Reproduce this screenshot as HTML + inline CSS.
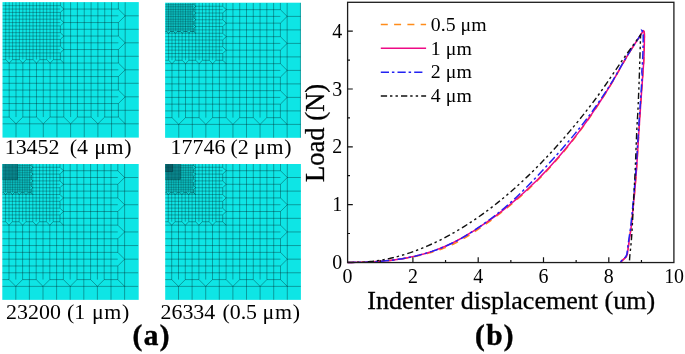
<!DOCTYPE html>
<html><head><meta charset="utf-8"><title>Figure</title>
<style>
html,body{margin:0;padding:0;background:#fff;}
body{width:685px;height:354px;overflow:hidden;}
svg{display:block;}
text{font-family:"Liberation Serif","Times New Roman",serif;fill:#000;stroke:#000;stroke-width:0;}
.s{stroke-width:0.3px;}
.b{font-weight:bold;stroke-width:0.45px;}
</style></head><body>
<svg width="685" height="354" viewBox="0 0 685 354">
<rect width="685" height="354" fill="#fff"/>
<clipPath id="cp1"><rect x="2.5" y="2.1" width="136.30" height="135.50"/></clipPath>
<rect x="2.5" y="2.1" width="136.30" height="135.50" fill="#0ee5e5"/>
<g clip-path="url(#cp1)">
<path d="M16.00 123.80L16.00 137.30M29.65 117.05L29.65 137.30M43.30 123.80L43.30 137.30M56.95 117.05L56.95 137.30M70.60 123.80L70.60 137.30M84.25 117.05L84.25 137.30M97.90 123.80L97.90 137.30M111.55 117.05L111.55 137.30M125.20 2.30L125.20 137.30M125.20 15.80L138.85 15.80M118.38 29.30L138.85 29.30M125.20 42.80L138.85 42.80M118.38 56.30L138.85 56.30M125.20 69.80L138.85 69.80M118.38 83.30L138.85 83.30M125.20 96.80L138.85 96.80M118.38 110.30L138.85 110.30M2.35 123.80L138.85 123.80M9.18 63.05L9.18 117.05M16.00 59.67L16.00 117.05M22.83 63.05L22.83 117.05M29.65 59.67L29.65 117.05M36.48 63.05L36.48 117.05M43.30 59.67L43.30 117.05M50.12 63.05L50.12 117.05M56.95 59.67L56.95 117.05M63.78 2.30L63.78 117.05M70.60 2.30L70.60 117.05M77.42 2.30L77.42 117.05M84.25 2.30L84.25 117.05M91.08 2.30L91.08 117.05M97.90 2.30L97.90 117.05M104.72 2.30L104.72 117.05M111.55 2.30L111.55 117.05M63.78 9.05L118.38 9.05M60.36 15.80L118.38 15.80M63.78 22.55L118.38 22.55M60.36 29.30L118.38 29.30M63.78 36.05L118.38 36.05M60.36 42.80L118.38 42.80M63.78 49.55L118.38 49.55M60.36 56.30L118.38 56.30M2.35 63.05L118.38 63.05M2.35 69.80L118.38 69.80M2.35 76.55L118.38 76.55M2.35 83.30L118.38 83.30M2.35 90.05L118.38 90.05M2.35 96.80L118.38 96.80M2.35 103.55L118.38 103.55M2.35 110.30L118.38 110.30M118.38 2.30L118.38 9.05L125.20 15.80L118.38 22.55L118.38 36.05L125.20 42.80L118.38 49.55L118.38 63.05L125.20 69.80L118.38 76.55L118.38 90.05L125.20 96.80L118.38 103.55L118.38 117.05M2.35 117.05L9.18 117.05L16.00 123.80L22.83 117.05L36.48 117.05L43.30 123.80L50.12 117.05L63.78 117.05L70.60 123.80L77.42 117.05L91.08 117.05L97.90 123.80L104.72 117.05L118.38 117.05M118.38 117.05L125.20 123.80M60.36 2.30L60.36 5.67L63.78 9.05L60.36 12.43L60.36 19.18L63.78 22.55L60.36 25.93L60.36 32.67L63.78 36.05L60.36 39.42L60.36 46.17L63.78 49.55L60.36 52.92L60.36 59.67M2.35 59.67L5.76 59.67L9.18 63.05L12.59 59.67L19.41 59.67L22.83 63.05L26.24 59.67L33.06 59.67L36.48 63.05L39.89 59.67L46.71 59.67L50.12 63.05L53.54 59.67L60.36 59.67M60.36 59.67L63.78 63.05" fill="none" stroke="#001a20" stroke-width="0.36" stroke-opacity="1.0"/>
<path d="M5.76 2.30L5.76 59.67M9.18 2.30L9.18 59.67M12.59 2.30L12.59 59.67M16.00 2.30L16.00 59.67M19.41 2.30L19.41 59.67M22.83 2.30L22.83 59.67M26.24 2.30L26.24 59.67M29.65 2.30L29.65 59.67M33.06 2.30L33.06 59.67M36.48 2.30L36.48 59.67M39.89 2.30L39.89 59.67M43.30 2.30L43.30 59.67M46.71 2.30L46.71 59.67M50.12 2.30L50.12 59.67M53.54 2.30L53.54 59.67M56.95 2.30L56.95 59.67M2.35 5.67L60.36 5.67M2.35 9.05L60.36 9.05M2.35 12.43L60.36 12.43M2.35 15.80L60.36 15.80M2.35 19.18L60.36 19.18M2.35 22.55L60.36 22.55M2.35 25.93L60.36 25.93M2.35 29.30L60.36 29.30M2.35 32.67L60.36 32.67M2.35 36.05L60.36 36.05M2.35 39.42L60.36 39.42M2.35 42.80L60.36 42.80M2.35 46.17L60.36 46.17M2.35 49.55L60.36 49.55M2.35 52.92L60.36 52.92M2.35 56.30L60.36 56.30" fill="none" stroke="#001a20" stroke-width="0.36" stroke-opacity="0.88"/>
</g>
<clipPath id="cp2"><rect x="165.1" y="2.7" width="135.80" height="135.10"/></clipPath>
<rect x="165.1" y="2.7" width="135.80" height="135.10" fill="#0ee5e5"/>
<g clip-path="url(#cp2)">
<path d="M178.75 124.40L178.75 137.90M192.30 117.65L192.30 137.90M205.85 124.40L205.85 137.90M219.40 117.65L219.40 137.90M232.95 124.40L232.95 137.90M246.50 117.65L246.50 137.90M260.05 124.40L260.05 137.90M273.60 117.65L273.60 137.90M287.15 2.90L287.15 137.90M287.15 16.40L300.70 16.40M280.38 29.90L300.70 29.90M287.15 43.40L300.70 43.40M280.38 56.90L300.70 56.90M287.15 70.40L300.70 70.40M280.38 83.90L300.70 83.90M287.15 97.40L300.70 97.40M280.38 110.90L300.70 110.90M165.20 124.40L300.70 124.40M171.97 63.65L171.97 117.65M178.75 60.27L178.75 117.65M185.52 63.65L185.52 117.65M192.30 60.27L192.30 117.65M199.07 63.65L199.07 117.65M205.85 60.27L205.85 117.65M212.62 63.65L212.62 117.65M219.40 60.27L219.40 117.65M226.17 2.90L226.17 117.65M232.95 2.90L232.95 117.65M239.72 2.90L239.72 117.65M246.50 2.90L246.50 117.65M253.27 2.90L253.27 117.65M260.05 2.90L260.05 117.65M266.82 2.90L266.82 117.65M273.60 2.90L273.60 117.65M226.17 9.65L280.38 9.65M222.79 16.40L280.38 16.40M226.17 23.15L280.38 23.15M222.79 29.90L280.38 29.90M226.17 36.65L280.38 36.65M222.79 43.40L280.38 43.40M226.17 50.15L280.38 50.15M222.79 56.90L280.38 56.90M165.20 63.65L280.38 63.65M165.20 70.40L280.38 70.40M165.20 77.15L280.38 77.15M165.20 83.90L280.38 83.90M165.20 90.65L280.38 90.65M165.20 97.40L280.38 97.40M165.20 104.15L280.38 104.15M165.20 110.90L280.38 110.90M280.38 2.90L280.38 9.65L287.15 16.40L280.38 23.15L280.38 36.65L287.15 43.40L280.38 50.15L280.38 63.65L287.15 70.40L280.38 77.15L280.38 90.65L287.15 97.40L280.38 104.15L280.38 117.65M165.20 117.65L171.97 117.65L178.75 124.40L185.52 117.65L199.07 117.65L205.85 124.40L212.62 117.65L226.17 117.65L232.95 124.40L239.72 117.65L253.27 117.65L260.05 124.40L266.82 117.65L280.38 117.65M280.38 117.65L287.15 124.40M222.79 2.90L222.79 6.28L226.17 9.65L222.79 13.03L222.79 19.77L226.17 23.15L222.79 26.52L222.79 33.27L226.17 36.65L222.79 40.02L222.79 46.77L226.17 50.15L222.79 53.52L222.79 60.27M165.20 60.27L168.59 60.27L171.97 63.65L175.36 60.27L182.14 60.27L185.52 63.65L188.91 60.27L195.69 60.27L199.07 63.65L202.46 60.27L209.24 60.27L212.62 63.65L216.01 60.27L222.79 60.27M222.79 60.27L226.17 63.65M168.59 2.90L168.59 31.59M171.97 2.90L171.97 31.59M175.36 2.90L175.36 31.59M178.75 2.90L178.75 31.59M182.14 2.90L182.14 31.59M185.52 2.90L185.52 31.59M188.91 2.90L188.91 31.59M192.30 2.90L192.30 31.59M165.20 6.28L193.99 6.28M165.20 9.65L193.99 9.65M165.20 13.03L193.99 13.03M165.20 16.40L193.99 16.40M165.20 19.77L193.99 19.77M165.20 23.15L193.99 23.15M165.20 26.52L193.99 26.52M165.20 29.90L193.99 29.90" fill="none" stroke="#001a20" stroke-width="0.36" stroke-opacity="1.0"/>
<path d="M168.59 33.27L168.59 60.27M171.97 31.59L171.97 60.27M175.36 33.27L175.36 60.27M178.75 31.59L178.75 60.27M182.14 33.27L182.14 60.27M185.52 31.59L185.52 60.27M188.91 33.27L188.91 60.27M192.30 31.59L192.30 60.27M195.69 2.90L195.69 60.27M199.07 2.90L199.07 60.27M202.46 2.90L202.46 60.27M205.85 2.90L205.85 60.27M209.24 2.90L209.24 60.27M212.62 2.90L212.62 60.27M216.01 2.90L216.01 60.27M219.40 2.90L219.40 60.27M195.69 6.28L222.79 6.28M193.99 9.65L222.79 9.65M195.69 13.03L222.79 13.03M193.99 16.40L222.79 16.40M195.69 19.77L222.79 19.77M193.99 23.15L222.79 23.15M195.69 26.52L222.79 26.52M193.99 29.90L222.79 29.90M165.20 33.27L222.79 33.27M165.20 36.65L222.79 36.65M165.20 40.02L222.79 40.02M165.20 43.40L222.79 43.40M165.20 46.77L222.79 46.77M165.20 50.15L222.79 50.15M165.20 53.52L222.79 53.52M165.20 56.90L222.79 56.90" fill="none" stroke="#001a20" stroke-width="0.36" stroke-opacity="0.88"/>
<path d="M166.89 2.90L166.89 31.59M170.28 2.90L170.28 31.59M173.67 2.90L173.67 31.59M177.06 2.90L177.06 31.59M180.44 2.90L180.44 31.59M183.83 2.90L183.83 31.59M187.22 2.90L187.22 31.59M190.61 2.90L190.61 31.59M165.20 4.59L193.99 4.59M165.20 7.96L193.99 7.96M165.20 11.34L193.99 11.34M165.20 14.71L193.99 14.71M165.20 18.09L193.99 18.09M165.20 21.46L193.99 21.46M165.20 24.84L193.99 24.84M165.20 28.21L193.99 28.21" fill="none" stroke="#001a20" stroke-width="0.36" stroke-opacity="0.78"/>
<path d="M193.99 2.90L193.99 4.59L195.69 6.28L193.99 7.96L193.99 11.34L195.69 13.03L193.99 14.71L193.99 18.09L195.69 19.77L193.99 21.46L193.99 24.84L195.69 26.52L193.99 28.21L193.99 31.59M165.20 31.59L166.89 31.59L168.59 33.27L170.28 31.59L173.67 31.59L175.36 33.27L177.06 31.59L180.44 31.59L182.14 33.27L183.83 31.59L187.22 31.59L188.91 33.27L190.61 31.59L193.99 31.59M193.99 31.59L195.69 33.27" fill="none" stroke="#001a20" stroke-width="0.486" stroke-opacity="1.0"/>
<path d="M300.45 2.7V137.8" fill="none" stroke="#001a20" stroke-width="0.432" stroke-opacity="0.8"/>
</g>
<clipPath id="cp3"><rect x="2.3" y="164.0" width="136.40" height="135.85"/></clipPath>
<rect x="2.3" y="164.0" width="136.40" height="135.85" fill="#0ee5e5"/>
<g clip-path="url(#cp3)">
<path d="M15.80 286.39L15.80 300.00M29.40 279.59L29.40 300.00M43.00 286.39L43.00 300.00M56.60 279.59L56.60 300.00M70.20 286.39L70.20 300.00M83.80 279.59L83.80 300.00M97.40 286.39L97.40 300.00M111.00 279.59L111.00 300.00M124.60 163.90L124.60 300.00M124.60 177.51L138.20 177.51M117.80 191.12L138.20 191.12M124.60 204.73L138.20 204.73M117.80 218.34L138.20 218.34M124.60 231.95L138.20 231.95M117.80 245.56L138.20 245.56M124.60 259.17L138.20 259.17M117.80 272.78L138.20 272.78M2.20 286.39L138.20 286.39M9.00 225.15L9.00 279.59M15.80 221.74L15.80 279.59M22.60 225.15L22.60 279.59M29.40 221.74L29.40 279.59M36.20 225.15L36.20 279.59M43.00 221.74L43.00 279.59M49.80 225.15L49.80 279.59M56.60 221.74L56.60 279.59M63.40 163.90L63.40 279.59M70.20 163.90L70.20 279.59M77.00 163.90L77.00 279.59M83.80 163.90L83.80 279.59M90.60 163.90L90.60 279.59M97.40 163.90L97.40 279.59M104.20 163.90L104.20 279.59M111.00 163.90L111.00 279.59M63.40 170.71L117.80 170.71M60.00 177.51L117.80 177.51M63.40 184.31L117.80 184.31M60.00 191.12L117.80 191.12M63.40 197.93L117.80 197.93M60.00 204.73L117.80 204.73M63.40 211.53L117.80 211.53M60.00 218.34L117.80 218.34M2.20 225.15L117.80 225.15M2.20 231.95L117.80 231.95M2.20 238.75L117.80 238.75M2.20 245.56L117.80 245.56M2.20 252.37L117.80 252.37M2.20 259.17L117.80 259.17M2.20 265.98L117.80 265.98M2.20 272.78L117.80 272.78M117.80 163.90L117.80 170.71L124.60 177.51L117.80 184.31L117.80 197.93L124.60 204.73L117.80 211.53L117.80 225.15L124.60 231.95L117.80 238.75L117.80 252.37L124.60 259.17L117.80 265.98L117.80 279.59M2.20 279.59L9.00 279.59L15.80 286.39L22.60 279.59L36.20 279.59L43.00 286.39L49.80 279.59L63.40 279.59L70.20 286.39L77.00 279.59L90.60 279.59L97.40 286.39L104.20 279.59L117.80 279.59M117.80 279.59L124.60 286.39M60.00 163.90L60.00 167.30L63.40 170.71L60.00 174.11L60.00 180.91L63.40 184.31L60.00 187.72L60.00 194.52L63.40 197.93L60.00 201.33L60.00 208.13L63.40 211.53L60.00 214.94L60.00 221.74M2.20 221.74L5.60 221.74L9.00 225.15L12.40 221.74L19.20 221.74L22.60 225.15L26.00 221.74L32.80 221.74L36.20 225.15L39.60 221.74L46.40 221.74L49.80 225.15L53.20 221.74L60.00 221.74M60.00 221.74L63.40 225.15M5.60 178.36L5.60 192.82M9.00 178.36L9.00 192.82M12.40 178.36L12.40 192.82M15.80 178.36L15.80 192.82M19.20 163.90L19.20 192.82M22.60 163.90L22.60 192.82M26.00 163.90L26.00 192.82M29.40 163.90L29.40 192.82M16.65 167.30L31.10 167.30M16.65 170.71L31.10 170.71M16.65 174.11L31.10 174.11M16.65 177.51L31.10 177.51M2.20 180.91L31.10 180.91M2.20 184.31L31.10 184.31M2.20 187.72L31.10 187.72M2.20 191.12L31.10 191.12" fill="none" stroke="#001a20" stroke-width="0.36" stroke-opacity="1.0"/>
<path d="M5.60 194.52L5.60 221.74M9.00 192.82L9.00 221.74M12.40 194.52L12.40 221.74M15.80 192.82L15.80 221.74M19.20 194.52L19.20 221.74M22.60 192.82L22.60 221.74M26.00 194.52L26.00 221.74M29.40 192.82L29.40 221.74M32.80 163.90L32.80 221.74M36.20 163.90L36.20 221.74M39.60 163.90L39.60 221.74M43.00 163.90L43.00 221.74M46.40 163.90L46.40 221.74M49.80 163.90L49.80 221.74M53.20 163.90L53.20 221.74M56.60 163.90L56.60 221.74M32.80 167.30L60.00 167.30M31.10 170.71L60.00 170.71M32.80 174.11L60.00 174.11M31.10 177.51L60.00 177.51M32.80 180.91L60.00 180.91M31.10 184.31L60.00 184.31M32.80 187.72L60.00 187.72M31.10 191.12L60.00 191.12M2.20 194.52L60.00 194.52M2.20 197.93L60.00 197.93M2.20 201.33L60.00 201.33M2.20 204.73L60.00 204.73M2.20 208.13L60.00 208.13M2.20 211.53L60.00 211.53M2.20 214.94L60.00 214.94M2.20 218.34L60.00 218.34" fill="none" stroke="#001a20" stroke-width="0.36" stroke-opacity="0.88"/>
<path d="M3.90 179.21L3.90 192.82M7.30 179.21L7.30 192.82M10.70 179.21L10.70 192.82M14.10 179.21L14.10 192.82M17.50 163.90L17.50 192.82M20.90 163.90L20.90 192.82M24.30 163.90L24.30 192.82M27.70 163.90L27.70 192.82M17.50 165.60L31.10 165.60M17.50 169.00L31.10 169.00M17.50 172.41L31.10 172.41M17.50 175.81L31.10 175.81M2.20 179.21L31.10 179.21M2.20 182.61L31.10 182.61M2.20 186.02L31.10 186.02M2.20 189.42L31.10 189.42" fill="none" stroke="#001a20" stroke-width="0.36" stroke-opacity="0.78"/>
<path d="M31.10 163.90L31.10 165.60L32.80 167.30L31.10 169.00L31.10 172.41L32.80 174.11L31.10 175.81L31.10 179.21L32.80 180.91L31.10 182.61L31.10 186.02L32.80 187.72L31.10 189.42L31.10 192.82M2.20 192.82L3.90 192.82L5.60 194.52L7.30 192.82L10.70 192.82L12.40 194.52L14.10 192.82L17.50 192.82L19.20 194.52L20.90 192.82L24.30 192.82L26.00 194.52L27.70 192.82L31.10 192.82M31.10 192.82L32.80 194.52" fill="none" stroke="#001a20" stroke-width="0.486" stroke-opacity="1.0"/>
<rect x="2.30" y="164.00" width="15.37" height="15.38" fill="#09838a"/>
<path d="M17.67 163.90V179.38H2.20" fill="none" stroke="#001a20" stroke-width="0.46799999999999997" stroke-opacity="0.75"/>
<path d="M5.60 163.90L5.60 179.38M2.20 167.30L17.67 167.30M9.00 163.90L9.00 179.38M2.20 170.71L17.67 170.71M12.40 163.90L12.40 179.38M2.20 174.11L17.67 174.11M15.80 163.90L15.80 179.38M2.20 177.51L17.67 177.51" fill="none" stroke="#001a20" stroke-width="0.36" stroke-opacity="0.35"/>
</g>
<clipPath id="cp4"><rect x="165.2" y="164.0" width="135.70" height="135.85"/></clipPath>
<rect x="165.2" y="164.0" width="135.70" height="135.85" fill="#0ee5e5"/>
<g clip-path="url(#cp4)">
<path d="M178.50 286.39L178.50 300.00M192.10 279.59L192.10 300.00M205.70 286.39L205.70 300.00M219.30 279.59L219.30 300.00M232.90 286.39L232.90 300.00M246.50 279.59L246.50 300.00M260.10 286.39L260.10 300.00M273.70 279.59L273.70 300.00M287.30 163.90L287.30 300.00M287.30 177.51L300.90 177.51M280.50 191.12L300.90 191.12M287.30 204.73L300.90 204.73M280.50 218.34L300.90 218.34M287.30 231.95L300.90 231.95M280.50 245.56L300.90 245.56M287.30 259.17L300.90 259.17M280.50 272.78L300.90 272.78M164.90 286.39L300.90 286.39M171.70 225.15L171.70 279.59M178.50 221.74L178.50 279.59M185.30 225.15L185.30 279.59M192.10 221.74L192.10 279.59M198.90 225.15L198.90 279.59M205.70 221.74L205.70 279.59M212.50 225.15L212.50 279.59M219.30 221.74L219.30 279.59M226.10 163.90L226.10 279.59M232.90 163.90L232.90 279.59M239.70 163.90L239.70 279.59M246.50 163.90L246.50 279.59M253.30 163.90L253.30 279.59M260.10 163.90L260.10 279.59M266.90 163.90L266.90 279.59M273.70 163.90L273.70 279.59M226.10 170.71L280.50 170.71M222.70 177.51L280.50 177.51M226.10 184.31L280.50 184.31M222.70 191.12L280.50 191.12M226.10 197.93L280.50 197.93M222.70 204.73L280.50 204.73M226.10 211.53L280.50 211.53M222.70 218.34L280.50 218.34M164.90 225.15L280.50 225.15M164.90 231.95L280.50 231.95M164.90 238.75L280.50 238.75M164.90 245.56L280.50 245.56M164.90 252.37L280.50 252.37M164.90 259.17L280.50 259.17M164.90 265.98L280.50 265.98M164.90 272.78L280.50 272.78M280.50 163.90L280.50 170.71L287.30 177.51L280.50 184.31L280.50 197.93L287.30 204.73L280.50 211.53L280.50 225.15L287.30 231.95L280.50 238.75L280.50 252.37L287.30 259.17L280.50 265.98L280.50 279.59M164.90 279.59L171.70 279.59L178.50 286.39L185.30 279.59L198.90 279.59L205.70 286.39L212.50 279.59L226.10 279.59L232.90 286.39L239.70 279.59L253.30 279.59L260.10 286.39L266.90 279.59L280.50 279.59M280.50 279.59L287.30 286.39M222.70 163.90L222.70 167.30L226.10 170.71L222.70 174.11L222.70 180.91L226.10 184.31L222.70 187.72L222.70 194.52L226.10 197.93L222.70 201.33L222.70 208.13L226.10 211.53L222.70 214.94L222.70 221.74M164.90 221.74L168.30 221.74L171.70 225.15L175.10 221.74L181.90 221.74L185.30 225.15L188.70 221.74L195.50 221.74L198.90 225.15L202.30 221.74L209.10 221.74L212.50 225.15L215.90 221.74L222.70 221.74M222.70 221.74L226.10 225.15M168.30 178.36L168.30 192.82M171.70 178.36L171.70 192.82M175.10 178.36L175.10 192.82M178.50 178.36L178.50 192.82M181.90 163.90L181.90 192.82M185.30 163.90L185.30 192.82M188.70 163.90L188.70 192.82M192.10 163.90L192.10 192.82M179.35 167.30L193.80 167.30M179.35 170.71L193.80 170.71M179.35 174.11L193.80 174.11M179.35 177.51L193.80 177.51M164.90 180.91L193.80 180.91M164.90 184.31L193.80 184.31M164.90 187.72L193.80 187.72M164.90 191.12L193.80 191.12" fill="none" stroke="#001a20" stroke-width="0.36" stroke-opacity="1.0"/>
<path d="M168.30 194.52L168.30 221.74M171.70 192.82L171.70 221.74M175.10 194.52L175.10 221.74M178.50 192.82L178.50 221.74M181.90 194.52L181.90 221.74M185.30 192.82L185.30 221.74M188.70 194.52L188.70 221.74M192.10 192.82L192.10 221.74M195.50 163.90L195.50 221.74M198.90 163.90L198.90 221.74M202.30 163.90L202.30 221.74M205.70 163.90L205.70 221.74M209.10 163.90L209.10 221.74M212.50 163.90L212.50 221.74M215.90 163.90L215.90 221.74M219.30 163.90L219.30 221.74M195.50 167.30L222.70 167.30M193.80 170.71L222.70 170.71M195.50 174.11L222.70 174.11M193.80 177.51L222.70 177.51M195.50 180.91L222.70 180.91M193.80 184.31L222.70 184.31M195.50 187.72L222.70 187.72M193.80 191.12L222.70 191.12M164.90 194.52L222.70 194.52M164.90 197.93L222.70 197.93M164.90 201.33L222.70 201.33M164.90 204.73L222.70 204.73M164.90 208.13L222.70 208.13M164.90 211.53L222.70 211.53M164.90 214.94L222.70 214.94M164.90 218.34L222.70 218.34" fill="none" stroke="#001a20" stroke-width="0.36" stroke-opacity="0.88"/>
<path d="M166.60 179.21L166.60 192.82M170.00 179.21L170.00 192.82M173.40 179.21L173.40 192.82M176.80 179.21L176.80 192.82M180.20 163.90L180.20 192.82M183.60 163.90L183.60 192.82M187.00 163.90L187.00 192.82M190.40 163.90L190.40 192.82M180.20 165.60L193.80 165.60M180.20 169.00L193.80 169.00M180.20 172.41L193.80 172.41M180.20 175.81L193.80 175.81M164.90 179.21L193.80 179.21M164.90 182.61L193.80 182.61M164.90 186.02L193.80 186.02M164.90 189.42L193.80 189.42" fill="none" stroke="#001a20" stroke-width="0.36" stroke-opacity="0.78"/>
<path d="M193.80 163.90L193.80 165.60L195.50 167.30L193.80 169.00L193.80 172.41L195.50 174.11L193.80 175.81L193.80 179.21L195.50 180.91L193.80 182.61L193.80 186.02L195.50 187.72L193.80 189.42L193.80 192.82M164.90 192.82L166.60 192.82L168.30 194.52L170.00 192.82L173.40 192.82L175.10 194.52L176.80 192.82L180.20 192.82L181.90 194.52L183.60 192.82L187.00 192.82L188.70 194.52L190.40 192.82L193.80 192.82M193.80 192.82L195.50 194.52" fill="none" stroke="#001a20" stroke-width="0.486" stroke-opacity="1.0"/>
<rect x="165.20" y="164.00" width="15.17" height="15.38" fill="#09838a"/>
<path d="M180.37 163.90V179.38H164.90" fill="none" stroke="#001a20" stroke-width="0.46799999999999997" stroke-opacity="0.75"/>
<path d="M168.30 163.90L168.30 179.38M164.90 167.30L180.37 167.30M171.70 163.90L171.70 179.38M164.90 170.71L180.37 170.71M175.10 163.90L175.10 179.38M164.90 174.11L180.37 174.11M178.50 163.90L178.50 179.38M164.90 177.51L180.37 177.51" fill="none" stroke="#001a20" stroke-width="0.36" stroke-opacity="0.35"/>
<rect x="165.20" y="164.00" width="7.44" height="7.64" fill="#075c65"/>
<path d="M172.63 163.90V171.64H164.90" fill="none" stroke="#001a20" stroke-width="0.46799999999999997" stroke-opacity="0.75"/>
<path d="M168.30 163.90L168.30 171.64M164.90 167.30L172.63 167.30" fill="none" stroke="#001a20" stroke-width="0.36" stroke-opacity="0.35"/>
</g>
<text y="154.3" font-size="21.9" xml:space="preserve"><tspan x="4.7">13452  </tspan><tspan x="69.8">(4 </tspan><tspan x="94.2" letter-spacing="0.7">μm)</tspan></text>
<text y="154.3" font-size="21.9" xml:space="preserve"><tspan x="170.6">17746 </tspan><tspan x="230.4">(2 </tspan><tspan x="254.1" letter-spacing="0.7">μm)</tspan></text>
<text y="318.6" font-size="21.9" xml:space="preserve"><tspan x="6.1">23200 </tspan><tspan x="67.0">(1 </tspan><tspan x="91.9" letter-spacing="0.7">μm)</tspan></text>
<text y="318.6" font-size="21.9" xml:space="preserve"><tspan x="160.5">26334 </tspan><tspan x="222.4">(0.5 </tspan><tspan x="262.6" letter-spacing="0.7">μm)</tspan></text>
<text x="151.7" y="344.8" font-size="29.3" class="b" text-anchor="middle" xml:space="preserve" letter-spacing="1.4">(a)</text>
<text x="495" y="344.8" font-size="29.3" class="b" text-anchor="middle" xml:space="preserve" letter-spacing="1.4">(b)</text>
<path d="M347.60 262.41L351.82 262.39L356.04 262.35L360.26 262.27L364.48 262.16L368.70 262.00L372.92 261.80L377.14 261.56L381.36 261.26L385.58 260.90L389.80 260.48L394.02 259.99L398.24 259.43L402.46 258.80L406.68 258.09L410.90 257.31L415.12 256.45L419.34 255.52L423.56 254.50L427.78 253.39L432.00 252.18L436.22 250.86L440.44 249.42L444.65 247.85L448.87 246.12L453.09 244.21L457.31 242.12L461.53 239.84L465.75 237.39L469.97 234.78L474.19 232.05L478.41 229.21L482.63 226.30L486.85 223.32L491.07 220.27L495.29 217.14L499.51 213.94L503.73 210.66L507.95 207.26L512.17 203.74L516.39 200.13L520.61 196.43L524.83 192.63L529.05 188.74L533.27 184.72L537.49 180.58L541.71 176.30L545.93 171.87L550.15 167.32L554.37 162.63L558.59 157.82L562.81 152.86L567.03 147.75L571.25 142.49L575.47 137.06L579.69 131.45L583.91 125.68L588.13 119.73L592.35 113.62L596.57 107.33L600.79 100.88L605.01 94.25L609.23 87.44L613.45 80.31L617.67 72.89L621.89 65.38L626.11 58.01L630.33 51.04L634.54 44.47L638.76 38.03L642.98 31.43L643.00 30.40L643.16 30.57L643.39 30.73L643.65 30.95L643.91 31.34L644.14 31.99L644.30 33.00L644.38 34.42L644.41 36.19L644.41 38.23L644.39 40.43L644.34 42.72L644.30 45.00L644.25 47.36L644.18 49.89L644.10 52.50L644.01 55.11L643.91 57.64L643.80 60.00L643.70 62.00L643.60 63.68L643.49 65.27L643.36 67.02L643.20 69.18L643.00 72.00L642.75 75.55L642.46 79.64L642.13 84.14L641.79 88.91L641.44 93.81L641.10 98.70L640.77 103.48L640.45 108.25L640.12 113.14L639.77 118.31L639.40 123.88L639.00 130.00L638.57 136.82L638.11 144.24L637.64 152.08L637.13 160.12L636.59 168.16L636.00 176.00L635.34 184.00L634.59 192.40L633.81 200.81L633.03 208.81L632.32 216.01L631.70 222.00L631.20 226.54L630.78 229.90L630.41 232.46L630.08 234.60L629.75 236.68L629.40 239.10L629.01 241.94L628.61 244.93L628.21 247.87L627.84 250.57L627.53 252.84L627.30 254.50L626.20 256.90L620.60 262.10" fill="none" stroke="#ff8c1a" stroke-width="1.5" stroke-dasharray="7 6.3"/>
<path d="M347.60 262.40L351.82 262.39L356.04 262.34L360.26 262.26L364.48 262.14L368.70 261.98L372.92 261.78L377.14 261.52L381.36 261.22L385.58 260.85L389.80 260.41L394.02 259.90L398.24 259.32L402.46 258.65L406.68 257.89L410.90 257.05L415.12 256.12L419.34 255.09L423.56 253.95L427.78 252.70L432.00 251.35L436.22 249.87L440.44 248.27L444.65 246.55L448.87 244.69L453.09 242.68L457.31 240.52L461.53 238.21L465.75 235.76L469.97 233.19L474.19 230.52L478.41 227.76L482.63 224.94L486.85 222.05L491.07 219.08L495.29 216.02L499.51 212.88L503.73 209.63L507.95 206.27L512.17 202.77L516.39 199.17L520.61 195.48L524.83 191.69L529.05 187.80L533.27 183.80L537.49 179.67L541.71 175.40L545.93 170.99L550.15 166.46L554.37 161.80L558.59 157.02L562.81 152.09L567.03 147.02L571.25 141.80L575.47 136.41L579.69 130.84L583.91 125.11L588.13 119.20L592.35 113.13L596.57 106.88L600.79 100.47L605.01 93.87L609.23 87.10L613.45 80.01L617.67 72.62L621.89 65.14L626.11 57.80L630.33 50.86L634.54 44.31L638.76 37.89L642.98 31.30L643.00 30.40L643.16 30.57L643.39 30.73L643.65 30.95L643.91 31.34L644.14 31.99L644.30 33.00L644.38 34.42L644.41 36.19L644.41 38.23L644.39 40.43L644.34 42.72L644.30 45.00L644.25 47.36L644.18 49.89L644.10 52.50L644.01 55.11L643.91 57.64L643.80 60.00L643.70 62.00L643.60 63.68L643.49 65.27L643.36 67.02L643.20 69.18L643.00 72.00L642.75 75.55L642.46 79.64L642.13 84.14L641.79 88.91L641.44 93.81L641.10 98.70L640.77 103.48L640.45 108.25L640.12 113.14L639.77 118.31L639.40 123.88L639.00 130.00L638.57 136.82L638.11 144.24L637.64 152.08L637.13 160.12L636.59 168.16L636.00 176.00L635.34 184.00L634.59 192.40L633.81 200.81L633.03 208.81L632.32 216.01L631.70 222.00L631.20 226.54L630.78 229.90L630.41 232.46L630.08 234.60L629.75 236.68L629.40 239.10L629.01 241.94L628.61 244.93L628.21 247.87L627.84 250.57L627.53 252.84L627.30 254.50L626.20 256.90L620.60 262.10" fill="none" stroke="#ee0a86" stroke-width="1.5" stroke-linejoin="round"/>
<path d="M347.60 262.40L351.81 262.39L356.02 262.34L360.24 262.26L364.45 262.14L368.66 261.98L372.87 261.78L377.08 261.53L381.29 261.22L385.51 260.85L389.72 260.42L393.93 259.91L398.14 259.33L402.35 258.67L406.57 257.91L410.78 257.08L414.99 256.15L419.20 255.12L423.41 253.99L427.63 252.75L431.84 251.40L436.05 249.93L440.26 248.34L444.47 246.62L448.68 244.77L452.90 242.76L457.11 240.60L461.32 238.29L465.53 235.83L469.74 233.25L473.96 230.54L478.17 227.74L482.38 224.85L486.59 221.86L490.80 218.77L495.01 215.57L499.23 212.24L503.44 208.77L507.65 205.15L511.86 201.36L516.07 197.43L520.29 193.40L524.50 189.26L528.71 185.02L532.92 180.69L537.13 176.27L541.35 171.77L545.56 167.20L549.77 162.57L553.98 157.91L558.19 153.20L562.40 148.43L566.62 143.60L570.83 138.67L575.04 133.63L579.25 128.44L583.46 123.10L587.68 117.60L591.89 111.90L596.10 106.02L600.31 99.93L604.52 93.63L608.73 87.12L612.95 80.27L617.16 73.07L621.37 65.72L625.58 58.46L629.79 51.53L634.01 45.01L638.22 38.64L642.43 32.14L641.96 30.57L642.19 30.73L642.45 30.95L642.71 31.34L642.94 31.99L643.10 33.00L643.18 34.42L643.21 36.19L643.21 38.23L643.19 40.43L643.14 42.72L643.10 45.00L643.05 47.36L642.98 49.89L642.90 52.50L642.81 55.11L642.71 57.64L642.60 60.00L642.50 62.00L642.40 63.68L642.29 65.27L642.16 67.02L642.00 69.18L641.80 72.00L642.25 75.55L641.96 79.64L641.63 84.14L641.29 88.91L640.94 93.81L640.60 98.70L640.27 103.48L639.95 108.25L639.62 113.14L639.27 118.31L638.90 123.88L638.50 130.00L638.07 136.82L637.61 144.24L637.14 152.08L636.63 160.12L636.09 168.16L635.50 176.00L634.84 184.00L634.09 192.40L633.31 200.81L632.53 208.81L631.82 216.01L631.20 222.00L630.70 226.54L630.28 229.90L629.91 232.46L629.58 234.60L629.25 236.68L628.90 239.10L628.51 241.94L628.11 244.93L627.71 247.87L627.34 250.57L627.03 252.84L626.80 254.50L625.70 256.90L620.10 262.10" fill="none" stroke="#2222f2" stroke-width="1.5" stroke-dasharray="8.2 2.9 2.5 3.1"/>
<path d="M347.60 262.40L351.79 262.39L355.97 262.34L360.16 262.22L364.34 262.01L368.53 261.70L372.71 261.28L376.90 260.75L381.09 260.11L385.27 259.35L389.46 258.49L393.64 257.52L397.83 256.44L402.01 255.26L406.20 253.98L410.39 252.60L414.57 251.12L418.76 249.55L422.94 247.88L427.13 246.11L431.31 244.26L435.50 242.31L439.69 240.27L443.87 238.14L448.06 235.92L452.24 233.61L456.43 231.20L460.61 228.71L464.80 226.12L468.99 223.45L473.17 220.68L477.36 217.82L481.54 214.87L485.73 211.83L489.91 208.70L494.10 205.47L498.29 202.16L502.47 198.75L506.66 195.25L510.84 191.66L515.03 187.97L519.21 184.20L523.40 180.33L527.59 176.37L531.77 172.31L535.96 168.17L540.14 163.93L544.33 159.59L548.52 155.17L552.70 150.65L556.89 146.04L561.07 141.34L565.26 136.54L569.44 131.65L573.63 126.67L577.82 121.60L582.00 116.42L586.19 111.15L590.37 105.75L594.56 100.22L598.74 94.52L602.93 88.63L607.12 82.58L611.30 76.42L615.49 70.24L619.67 64.14L623.86 58.15L628.04 52.23L632.23 46.33L636.42 40.60L640.60 34.72L640.60 35.00L640.57 36.06L640.53 37.52L640.48 39.25L640.42 41.15L640.36 43.10L640.30 45.00L640.24 46.83L640.18 48.67L640.11 50.56L640.04 52.56L639.97 54.69L639.90 57.00L639.83 59.34L639.77 61.63L639.71 64.07L639.64 66.82L639.54 70.07L639.40 74.00L639.22 78.94L638.99 84.82L638.74 91.19L638.49 97.63L638.23 103.67L638.00 108.90L637.79 112.97L637.60 116.18L637.42 119.01L637.23 121.93L637.03 125.43L636.80 130.00L636.54 135.95L636.26 142.97L635.97 150.57L635.67 158.26L635.38 165.57L635.10 172.00L634.83 177.55L634.57 182.59L634.31 187.25L634.06 191.63L633.82 195.84L633.60 200.00L633.39 204.06L633.20 207.93L633.03 211.62L632.85 215.19L632.68 218.63L632.50 222.00L632.32 225.27L632.15 228.41L631.98 231.44L631.80 234.37L631.61 237.22L631.40 240.00L631.16 242.77L630.89 245.52L630.61 248.19L630.34 250.70L630.10 253.00L629.90 255.00L629.75 256.71L629.64 258.19L629.56 259.44L629.49 260.48L629.44 261.33L629.40 262.00" fill="none" stroke="#111" stroke-width="1.4" stroke-dasharray="6.3 2.9 2.4 3.1 2.4 3.1"/>
<rect x="347.6" y="2.3" width="326.30" height="260.25" fill="none" stroke="#1c1c1c" stroke-width="1.3"/>
<path d="M380.25 262.4V260.0M412.90 262.4V257.2M445.55 262.4V260.0M478.20 262.4V257.2M510.85 262.4V260.0M543.50 262.4V257.2M576.15 262.4V260.0M608.80 262.4V257.2M641.45 262.4V260.0M347.6 233.50H350.0M347.6 204.60H352.8M347.6 175.70H350.0M347.6 146.80H352.8M347.6 117.90H350.0M347.6 89.00H352.8M347.6 60.10H350.0M347.6 31.20H352.8" fill="none" stroke="#111" stroke-width="1.2"/>
<text x="347.6" y="283.4" font-size="19.9" text-anchor="middle" xml:space="preserve">0</text>
<text x="412.9" y="283.4" font-size="19.9" text-anchor="middle" xml:space="preserve">2</text>
<text x="478.2" y="283.4" font-size="19.9" text-anchor="middle" xml:space="preserve">4</text>
<text x="543.5" y="283.4" font-size="19.9" text-anchor="middle" xml:space="preserve">6</text>
<text x="608.8" y="283.4" font-size="19.9" text-anchor="middle" xml:space="preserve">8</text>
<text x="674.1" y="283.4" font-size="19.9" text-anchor="middle" xml:space="preserve">10</text>
<text x="342.2" y="268.9" font-size="19.9" text-anchor="end" xml:space="preserve">0</text>
<text x="342.2" y="211.1" font-size="19.9" text-anchor="end" xml:space="preserve">1</text>
<text x="342.2" y="153.3" font-size="19.9" text-anchor="end" xml:space="preserve">2</text>
<text x="342.2" y="95.5" font-size="19.9" text-anchor="end" xml:space="preserve">3</text>
<text x="342.2" y="37.7" font-size="19.9" text-anchor="end" xml:space="preserve">4</text>
<text x="511.3" y="309" font-size="26.05" class="s" text-anchor="middle" xml:space="preserve">Indenter displacement (um)</text>
<text class="s" transform="translate(323.6 132.9) rotate(-90)" font-size="26.6" text-anchor="middle">Load (N)</text>
<path d="M380.8 24.5H426.1" fill="none" stroke="#ff8c1a" stroke-width="1.5" stroke-dasharray="7 6.3"/>
<text x="430.8" y="30.7" font-size="19.8" xml:space="preserve">0.5 <tspan letter-spacing="0.2">μm</tspan></text>
<path d="M380.8 48.3H426.1" fill="none" stroke="#ee0a86" stroke-width="1.5"/>
<text x="430.8" y="54.5" font-size="19.8" xml:space="preserve">1 <tspan letter-spacing="0.2">μm</tspan></text>
<path d="M380.8 72.2H422.8" fill="none" stroke="#2222f2" stroke-width="1.5" stroke-dasharray="8.2 2.9 2.5 3.1"/>
<text x="430.8" y="78.4" font-size="19.8" xml:space="preserve">2 <tspan letter-spacing="0.2">μm</tspan></text>
<path d="M380.8 96.1H426.1" fill="none" stroke="#111" stroke-width="1.5" stroke-dasharray="6.3 2.9 2.4 3.1 2.4 3.1"/>
<text x="430.8" y="102.3" font-size="19.8" xml:space="preserve">4 <tspan letter-spacing="0.2">μm</tspan></text>
</svg></body></html>
